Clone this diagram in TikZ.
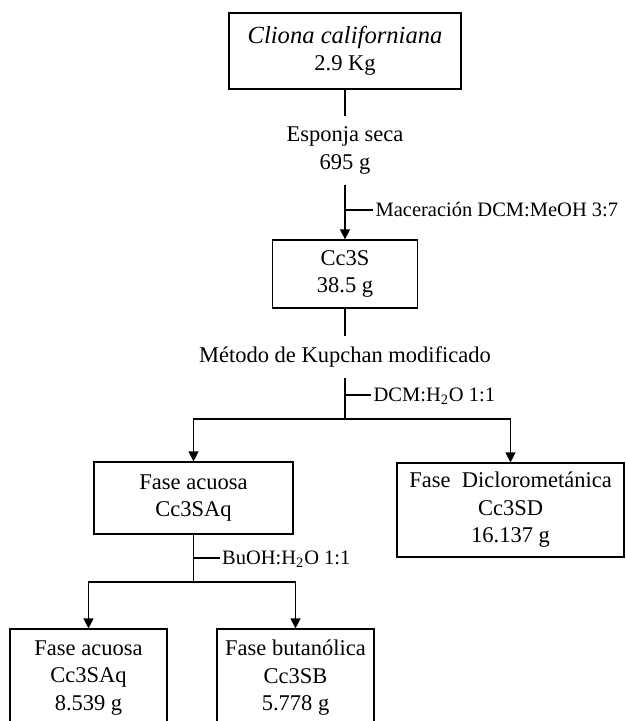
\documentclass[tikz,border=0pt]{standalone}
\usepackage{fontspec}
\setmainfont{Liberation Serif}
\usepackage{tikz}
\usetikzlibrary{positioning,arrows.meta}

\begin{document}
\begin{tikzpicture}[x=0.5pt, y=-0.5pt, line width=0.6pt, fraction/.style={draw, inner sep=0pt, align=center, font=\fontsize{11.25}{13.75}\selectfont}, stage/.style={inner xsep=2pt, inner ysep=5pt, align=center, font=\fontsize{11.25}{13.75}\selectfont}, solvent/.style={inner xsep=1pt, inner ysep=0pt, text height=1.5ex, text depth=0pt, font=\fontsize{10.25}{12}\selectfont}, arrow/.style={-{Triangle[length=5pt, width=5pt]}}]
\useasboundingbox (0,0) rectangle (625,721);
\clip (0,0) rectangle (625,721);
\node[fraction, minimum width=116pt, minimum height=38pt] (sponge) at (345,51) {{\fontsize{12.3}{13.75}\selectfont\itshape Cliona californiana}\\2.9 Kg};
\node[stage] (dry) at (345,150.5) {Esponja seca\\695 g};
\node[fraction, minimum width=72.5pt, minimum height=34pt] (extract) at (345,274) {Cc3S\\38.5 g};
\node[stage] (kupchan) at (345,357) {Método de Kupchan modificado};
\node[fraction, minimum width=99.5pt, minimum height=36pt] (aq1) at (193.5,498) {Fase acuosa\\Cc3SAq};
\node[fraction, minimum width=113.5pt, minimum height=47pt] (dcm) at (510.5,510) {Fase~ Diclorometánica\\Cc3SD\\16.137 g};
\node[fraction, minimum width=78.5pt, minimum height=49pt] (aq2) at (88.5,678) {Fase acuosa\\Cc3SAq\\8.539 g};
\node[fraction, minimum width=78.5pt, minimum height=49pt] (buoh) at (295.5,678) {Fase butanólica\\Cc3SB\\5.778 g};
\coordinate (mac) at (345,210);
\coordinate (part) at (345,395);
\coordinate (split1) at (345,419);
\coordinate (bupart) at (193.5,558);
\coordinate (split2) at (193.5,582);
\node[solvent, right=14pt of mac] (maclbl) {Maceración DCM:MeOH 3:7};
\node[solvent, right=13pt of part] (partlbl) {DCM:H\textsubscript{2}O 1:1};
\node[solvent, right=13pt of bupart] (bulbl) {BuOH:H\textsubscript{2}O 1:1};
\draw (sponge) -- (dry);
\draw[arrow] (dry) -- (extract);
\draw (mac) -- (maclbl);
\draw (extract) -- (kupchan);
\draw (kupchan) -- (split1);
\draw (part) -- (partlbl);
\draw[arrow] (split1) -| (aq1);
\draw[arrow] (split1) -| (dcm);
\draw (aq1) -- (split2);
\draw (bupart) -- (bulbl);
\draw[arrow] (split2) -| (aq2);
\draw[arrow] (split2) -| (buoh);
\end{tikzpicture}
\end{document}
